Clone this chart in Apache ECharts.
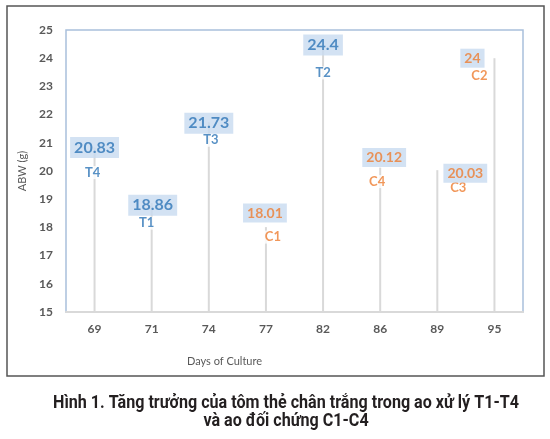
<!DOCTYPE html>
<html>
<head>
<meta charset="utf-8">
<script src="https://cdn.jsdelivr.net/npm/echarts@6/dist/echarts.min.js"></script>
<style>
  html, body { margin: 0; padding: 0; background: #fff; }
  #main { width: 550px; height: 439px; }
</style>
</head>
<body>
<div id="main"></div>
<script>
const days = ['69', '71', '74', '77', '82', '86', '89', '95']
const abw = [20.83, 18.86, 21.73, 18.01, 24.4, 20.12, 20.03, 24]
const pond = ['T4', 'T1', 'T3', 'C1', 'T2', 'C4', 'C3', 'C2']
const caption = [
  'Hình 1. Tăng trưởng của tôm thẻ chân trắng trong ao xử lý T1-T4',
  'và ao đối chứng C1-C4'
]

// label nudges (px) so the boxes sit like in the figure
const valueOffsets = [[0, 0], [1, 2], [0, 1], [-1, -14], [0, -2], [4, -10], [28, 3], [-22, 0]]
const nameOffsets = [[-2, 25], [-5, 20], [2, 18], [7, 10], [0, 26], [-3, 14], [21, 18], [-15, 18]]

const blue = '#2e75b6'
const orange = '#ed7d31'
const colorOf = name => (name[0] === 'T' ? blue : orange)

// the caption font is a condensed bold face: squeeze a normal bold one to fit
const capFont = 'bold 18px Roboto'
const ctx = document.createElement('canvas').getContext('2d')
ctx.font = capFont
const capScale = 466 / ctx.measureText(caption[0]).width

const myChart = echarts.init(document.getElementById('main'))

myChart.setOption({
  animation: false,
  graphic: [
    {
      type: 'rect',
      shape: { x: 7, y: 6, width: 537, height: 370 },
      style: { fill: 'none', stroke: '#555', lineWidth: 1.5 },
      silent: true
    },
    ...caption.map((line, i) => ({
      type: 'text',
      x: 286,
      y: 403 + i * 18,
      scaleX: capScale,
      style: {
        text: line,
        font: capFont,
        fill: '#231f20',
        align: 'center',
        verticalAlign: 'middle'
      },
      silent: true
    }))
  ],
  grid: {
    left: 66,
    right: 27,
    top: 30,
    bottom: 127,
    show: true,
    borderColor: '#a9c0dc',
    borderWidth: 1.5
  },
  xAxis: {
    type: 'category',
    data: days,
    name: 'Days of Culture',
    nameLocation: 'middle',
    nameGap: 44,
    nameTextStyle: {
      color: '#595959',
      fontFamily: 'Lato',
      fontSize: 11,
      padding: [0, 140, 0, 0]
    },
    axisLine: { lineStyle: { color: '#d9d9d9', width: 2 } },
    axisTick: { show: false },
    axisLabel: {
      color: '#595959',
      fontFamily: 'Lato',
      fontWeight: 'bold',
      fontSize: 12,
      margin: 11
    }
  },
  yAxis: {
    type: 'value',
    min: 15,
    max: 25,
    interval: 1,
    name: 'ABW (g)',
    nameLocation: 'middle',
    nameGap: 38,
    nameTextStyle: { color: '#595959', fontFamily: 'Lato', fontSize: 11 },
    axisLine: { show: false },
    axisTick: { show: false },
    splitLine: { show: false },
    axisLabel: {
      color: '#595959',
      fontFamily: 'Lato',
      fontWeight: 'bold',
      fontSize: 12,
      margin: 13
    }
  },
  series: [
    {
      type: 'bar',
      data: abw,
      barWidth: 2,
      itemStyle: { color: '#d9d9d9' },
      silent: true
    },
    {
      type: 'scatter',
      symbolSize: 0,
      z: 5,
      data: abw.map((v, i) => ({
        value: v,
        label: {
          offset: valueOffsets[i],
          color: colorOf(pond[i]),
          fontSize: pond[i][0] === 'T' ? 16 : 14
        }
      })),
      label: {
        show: true,
        position: 'inside',
        formatter: p => String(p.value),
        fontFamily: 'Lato',
        fontWeight: 'bold',
        backgroundColor: '#c8dbf0',
        padding: [3, 4, 2, 4]
      }
    },
    {
      type: 'scatter',
      symbolSize: 0,
      z: 4,
      data: abw.map((v, i) => ({
        value: v,
        label: { offset: nameOffsets[i], color: colorOf(pond[i]) }
      })),
      label: {
        show: true,
        position: 'inside',
        formatter: p => pond[p.dataIndex],
        fontFamily: 'Lato',
        fontWeight: 'bold',
        fontSize: 13,
        backgroundColor: '#fff',
        padding: [0, 1]
      }
    }
  ]
})
</script>
</body>
</html>
